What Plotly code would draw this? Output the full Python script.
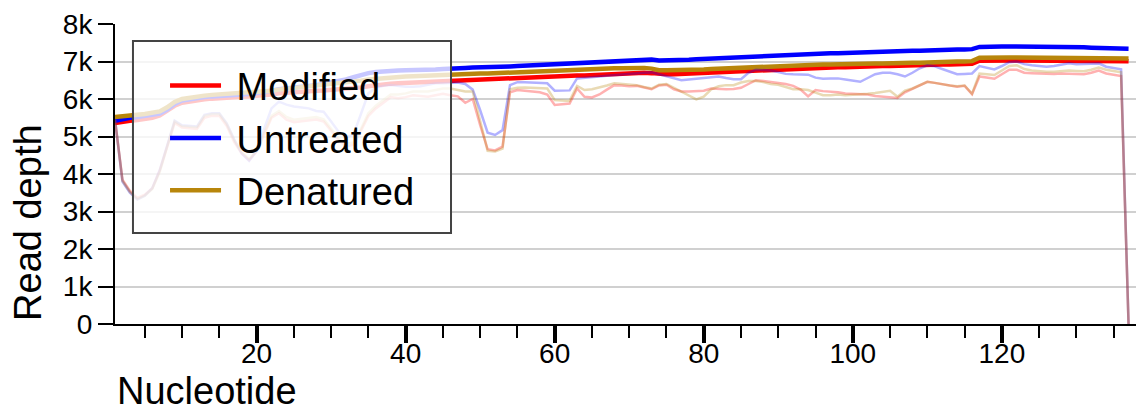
import plotly.graph_objects as go

nucleotide = list(range(1, 138))

# Per-position read depth
modified_depth = [
    5450, 3850, 3550, 3360, 3450, 3620, 4100, 4750, 5360, 5240,
    5220, 5200, 5500, 5550, 5550, 5280, 4850, 4550, 4370, 4600,
    5050, 5500, 5620, 5450, 5380, 5400, 5430, 5450, 5400, 5150,
    4900, 4730, 4780, 5150, 5550, 5750, 5900, 6050, 6020, 6050,
    6100, 6080, 6060, 6100, 6140, 6100, 6070, 5900, 6000, 5300,
    4660, 4630, 4730, 6180, 6240, 6220, 6200, 6180, 6120, 5840,
    5860, 5880, 6280, 6060, 6040, 6120, 6250, 6370, 6360, 6340,
    6350, 6300, 6260, 6360, 6380, 6260, 6200, 6200, 6200, 6220,
    6280, 6260, 6260, 6270, 6300, 6400, 6500, 6480, 6460, 6440,
    6400, 6350, 6250, 6070, 6240, 6210, 6200, 6180, 6150, 6140,
    6130, 6120, 6080, 6070, 6050, 6030, 6180, 6280, 6380, 6460,
    6430, 6390, 6360, 6330, 6350, 6130, 6600, 6560, 6540, 6660,
    6780, 6780, 6700, 6690, 6680, 6670, 6670, 6680, 6680, 6670,
    6660, 6700, 6760, 6680, 6650, 6610, 0,
]
untreated_depth = [
    5450, 3800, 3500, 3320, 3420, 3620, 4100, 4750, 5420, 5300,
    5280, 5270, 5580, 5620, 5620, 5350, 4920, 4550, 4350, 4620,
    5200, 5750, 5930, 5850, 5800, 5780, 5750, 5680, 5660, 5400,
    5130, 4980, 5050, 5600, 6150, 6300, 6350, 6370, 6340, 6330,
    6330, 6340, 6380, 6420, 6420, 6440, 6440, 6400, 6250, 5700,
    5100, 5040, 5170, 6370, 6450, 6450, 6440, 6430, 6420, 6220,
    6220, 6230, 6550, 6560, 6580, 6600, 6620, 6640, 6660, 6670,
    6680, 6700, 6710, 6660, 6600, 6550, 6500, 6520, 6550, 6560,
    6580, 6600, 6560, 6530, 6530, 6700, 6780, 6780, 6760, 6720,
    6670, 6660, 6660, 6650, 6570, 6540, 6550, 6550, 6520, 6500,
    6460, 6560, 6660, 6700, 6700, 6660, 6600, 6700, 6820, 6900,
    6870, 6800, 6720, 6660, 6670, 6680, 6880, 6840, 6790, 6880,
    6980, 7000, 6930, 6900, 6880, 6860, 6880, 6920, 6950, 6930,
    6930, 6940, 6950, 6860, 6820, 6790, 0,
]
denatured_depth = [
    5450, 3820, 3520, 3330, 3420, 3600, 4050, 4700, 5400, 5280,
    5260, 5250, 5550, 5600, 5600, 5330, 4900, 4580, 4400, 4620,
    5100, 5550, 5680, 5520, 5450, 5470, 5500, 5520, 5460, 5200,
    4950, 4800, 4840, 5200, 5620, 5820, 5980, 6120, 6120, 6150,
    6200, 6200, 6200, 6240, 6280, 6280, 6240, 6200, 6200, 5400,
    4620, 4600, 4680, 6260, 6300, 6310, 6300, 6290, 6280, 5970,
    5950, 5950, 6350, 6240, 6260, 6300, 6360, 6420, 6400, 6380,
    6370, 6320, 6280, 6380, 6400, 6300, 6200, 6080, 5990, 6060,
    6260, 6340, 6370, 6370, 6440, 6480, 6480, 6450, 6400, 6380,
    6320, 6260, 6260, 6240, 6170, 6100, 6100, 6120, 6100, 6110,
    6120, 6140, 6160, 6180, 6220, 6060, 6220, 6280, 6380, 6460,
    6430, 6390, 6360, 6340, 6360, 6140, 6680, 6660, 6640, 6760,
    6880, 6900, 6800, 6760, 6740, 6730, 6730, 6750, 6760, 6750,
    6740, 6780, 6840, 6780, 6740, 6710, 0,
]

# Effective depth (bold curves)
modified_effective = [
    5360, 5400, 5420, 5440, 5460, 5500, 5560, 5680, 5820, 5900,
    5940, 5970, 5990, 6010, 6030, 6040, 6050, 6060, 6070, 6080,
    6100, 6120, 6150, 6170, 6190, 6200, 6210, 6220, 6230, 6240,
    6250, 6270, 6290, 6310, 6340, 6370, 6390, 6410, 6420, 6430,
    6440, 6450, 6450, 6460, 6460, 6470, 6490, 6500, 6500, 6510,
    6510, 6520, 6530, 6540, 6550, 6560, 6570, 6580, 6590, 6600,
    6610, 6620, 6630, 6630, 6640, 6650, 6660, 6670, 6680, 6680,
    6690, 6700, 6690, 6660, 6660, 6660, 6670, 6670, 6680, 6680,
    6690, 6700, 6710, 6720, 6730, 6740, 6750, 6760, 6770, 6780,
    6790, 6800, 6810, 6820, 6830, 6830, 6840, 6850, 6850, 6860,
    6860, 6870, 6870, 6880, 6880, 6890, 6890, 6900, 6900, 6910,
    6910, 6920, 6920, 6930, 6930, 6940, 7020, 7030, 7030, 7030,
    7030, 7030, 7030, 7030, 7030, 7020, 7020, 7020, 7020, 7020,
    7020, 7020, 7020, 7010, 7010, 7010, 7010,
]
untreated_effective = [
    5420, 5470, 5500, 5520, 5540, 5570, 5610, 5720, 5870, 5960,
    6000, 6030, 6050, 6070, 6090, 6100, 6110, 6120, 6130, 6150,
    6180, 6220, 6260, 6290, 6310, 6330, 6350, 6370, 6400, 6430,
    6470, 6520, 6580, 6640, 6690, 6720, 6740, 6750, 6760, 6770,
    6770, 6780, 6780, 6790, 6800, 6800, 6820, 6830, 6840, 6840,
    6850, 6850, 6860, 6870, 6880, 6890, 6900, 6910, 6920, 6930,
    6940, 6950, 6960, 6970, 6980, 6990, 7000, 7010, 7020, 7030,
    7040, 7050, 7050, 7030, 7030, 7040, 7040, 7050, 7060, 7070,
    7080, 7090, 7100, 7110, 7120, 7130, 7150, 7160, 7170, 7170,
    7180, 7190, 7190, 7200, 7200, 7210, 7220, 7220, 7230, 7240,
    7240, 7250, 7260, 7260, 7270, 7280, 7280, 7290, 7290, 7300,
    7300, 7310, 7310, 7320, 7320, 7330, 7390, 7400, 7400, 7400,
    7400, 7400, 7400, 7390, 7390, 7390, 7390, 7380, 7380, 7380,
    7380, 7370, 7370, 7370, 7360, 7350, 7340,
]
denatured_effective = [
    5520, 5550, 5570, 5580, 5600, 5630, 5670, 5780, 5920, 6000,
    6040, 6070, 6090, 6110, 6120, 6130, 6140, 6150, 6160, 6170,
    6190, 6220, 6250, 6270, 6290, 6300, 6320, 6340, 6360, 6380,
    6400, 6430, 6460, 6490, 6520, 6540, 6560, 6580, 6590, 6600,
    6610, 6620, 6630, 6640, 6640, 6650, 6660, 6670, 6670, 6680,
    6680, 6690, 6700, 6710, 6720, 6730, 6740, 6750, 6750, 6760,
    6770, 6780, 6790, 6790, 6800, 6810, 6810, 6820, 6820, 6830,
    6830, 6830, 6810, 6770, 6770, 6770, 6780, 6780, 6790, 6790,
    6800, 6810, 6820, 6830, 6840, 6850, 6860, 6870, 6880, 6890,
    6890, 6900, 6900, 6910, 6910, 6920, 6920, 6930, 6930, 6940,
    6940, 6950, 6950, 6950, 6960, 6960, 6960, 6970, 6970, 6980,
    6980, 6990, 6990, 7000, 7000, 7010, 7100, 7110, 7110, 7110,
    7110, 7110, 7110, 7100, 7100, 7100, 7100, 7100, 7100, 7090,
    7090, 7090, 7090, 7090, 7080, 7080, 7080,
]

series_names = ["Modified", "Untreated", "Denatured"]
series_colors = ["#ff0000", "#0000ff", "#b8860b"]

y_tick_values = [0, 1000, 2000, 3000, 4000, 5000, 6000, 7000, 8000]
y_tick_labels = ["0", "1k", "2k", "3k", "4k", "5k", "6k", "7k", "8k"]
x_tick_values = [20, 40, 60, 80, 100, 120]

FONT = "Liberation Sans, Arial, Helvetica, sans-serif"

fig = go.Figure()

# bold effective-depth curves (these carry the legend)
for name, color, ys in zip(series_names, series_colors,
                           [modified_effective, untreated_effective, denatured_effective]):
    fig.add_trace(go.Scatter(
        x=nucleotide, y=ys, mode="lines", name="\u00a0" + name,
        line=dict(color=color, width=4.5), legendgroup=name,
    ))

# faint per-position depth curves on top
for name, color, ys in zip(series_names, series_colors,
                           [modified_depth, untreated_depth, denatured_depth]):
    fig.add_trace(go.Scatter(
        x=nucleotide, y=ys, mode="lines", name=name, showlegend=False,
        line=dict(color=color, width=2.5), opacity=0.3, legendgroup=name,
    ))

# translucent legend frame
fig.add_shape(
    type="rect", xref="paper", yref="paper",
    x0=0.0176, x1=0.3291, y0=0.3033, y1=0.9433,
    fillcolor="rgba(255,255,255,0.78)",
    line=dict(color="#444444", width=2), layer="above",
)

fig.update_layout(
    width=1136, height=413,
    margin=dict(l=115, r=0, t=24, b=89),
    plot_bgcolor="white", paper_bgcolor="white",
    font=dict(family=FONT, color="black"),
    showlegend=True,
    legend=dict(
        x=0.049, y=0.899, xanchor="left", yanchor="top",
        bgcolor="rgba(0,0,0,0)", borderwidth=0,
        font=dict(family=FONT, size=38, color="black"),
        itemwidth=51, tracegroupgap=0,
    ),
    xaxis=dict(
        range=[1, 138], showgrid=False, zeroline=False,
        showline=True, linecolor="black", linewidth=2,
        tickmode="array", tickvals=x_tick_values,
        ticks="outside", ticklen=17, tickwidth=4, tickcolor="black",
        ticklabelstandoff=-14,
        tickfont=dict(family=FONT, size=28, color="black"),
        minor=dict(dtick=5, tick0=0, ticks="outside", ticklen=12,
                   tickwidth=2, tickcolor="black", showgrid=False),
    ),
    yaxis=dict(
        range=[0, 8000], zeroline=False,
        showgrid=True, gridcolor="#d0d0d0", gridwidth=2,
        showline=True, linecolor="black", linewidth=2,
        tickmode="array", tickvals=y_tick_values, ticktext=y_tick_labels,
        ticks="outside", ticklen=15, tickwidth=2, tickcolor="black",
        tickfont=dict(family=FONT, size=28, color="black"),
    ),
    annotations=[
        dict(text="Nucleotide", xref="paper", yref="paper",
             x=0.0, y=-0.222, xanchor="left", yanchor="middle",
             showarrow=False, font=dict(family=FONT, size=38, color="black")),
        dict(text="Read depth", xref="paper", yref="paper",
             x=-0.0852, y=0.337, xanchor="center", yanchor="middle",
             textangle=-90, showarrow=False,
             font=dict(family=FONT, size=38, color="black")),
    ],
)

fig.write_html("out.html")
